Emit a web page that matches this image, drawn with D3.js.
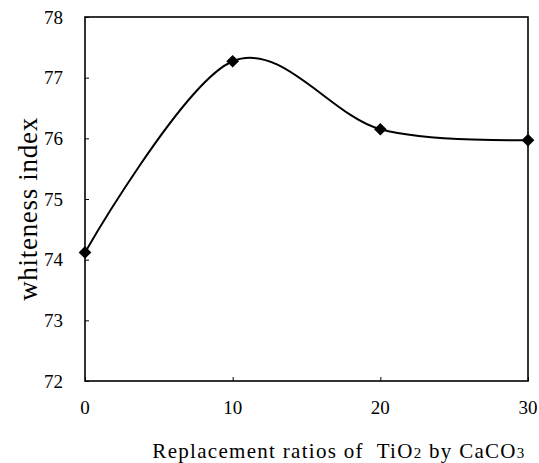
<!DOCTYPE html>
<html>
<head>
<meta charset="utf-8">
<script src="https://cdn.jsdelivr.net/npm/d3@7"></script>
<style>
  body { margin: 0; background: #fff; }
</style>
</head>
<body>
<div id="chart"></div>
<script>
const ratios = [0, 10, 20, 30];
const whiteness = [74.12, 77.27, 76.15, 75.97];
const xTicks = [0, 10, 20, 30];
const yTicks = [72, 73, 74, 75, 76, 77, 78];

const width = 539, height = 463;
const serif = "'Liberation Serif', 'Times New Roman', 'DejaVu Serif', serif";

const svg = d3.select("#chart").append("svg")
    .attr("width", width).attr("height", height)
    .attr("font-family", serif);

const x = d3.scaleLinear().domain([0, 30]).range([85, 528]);
const y = d3.scaleLinear().domain([72, 78]).range([381, 17]);

// plot box
svg.append("rect")
    .attr("x", x(0)).attr("y", y(78))
    .attr("width", x(30) - x(0)).attr("height", y(72) - y(78))
    .attr("fill", "none").attr("stroke", "#000").attr("stroke-width", 1.6);

// y axis, ticks point inward
const yAxis = svg.append("g")
    .attr("transform", `translate(${x(0)},0)`)
    .call(d3.axisRight(y).tickValues(yTicks).tickSize(4).tickFormat(""));
yAxis.select(".domain").remove();
yAxis.selectAll(".tick line").attr("stroke", "#000");

svg.append("g").selectAll("text")
    .data(yTicks).enter().append("text")
    .attr("x", 63).attr("y", d => y(d))
    .attr("dy", "0.35em")
    .attr("text-anchor", "end")
    .style("font-family", serif)
    .style("font-size", "19px")
    .text(d => d);

// x axis, ticks point inward
const xAxis = svg.append("g")
    .attr("transform", `translate(0,${y(72)})`)
    .call(d3.axisTop(x).tickValues(xTicks).tickSize(4).tickFormat(""));
xAxis.select(".domain").remove();
xAxis.selectAll(".tick line").attr("stroke", "#000");

svg.append("g").selectAll("text")
    .data(xTicks).enter().append("text")
    .attr("x", d => x(d)).attr("y", 414)
    .attr("text-anchor", "middle")
    .style("font-family", serif)
    .style("font-size", "19px")
    .text(d => d);

// axis titles
svg.append("text")
    .attr("transform", "translate(37,209) rotate(-90)")
    .attr("text-anchor", "middle")
    .style("font-family", serif)
    .style("font-size", "27px")
    .style("letter-spacing", "0.7px")
    .text("whiteness index");

const xt = svg.append("text")
    .attr("x", 339).attr("y", 458)
    .attr("text-anchor", "middle")
    .style("font-family", serif)
    .style("font-size", "21px")
    .style("letter-spacing", "1.3px");
xt.append("tspan").text("Replacement ratios of\u00a0 TiO");
xt.append("tspan").style("font-size", "15px").text("2");
xt.append("tspan").text(" by CaCO");
xt.append("tspan").style("font-size", "15px").text("3");

// smoothed line
const pts = ratios.map((r, i) => [r, whiteness[i]]);
const line = d3.line()
    .x(d => x(d[0])).y(d => y(d[1]))
    .curve(d3.curveCardinal.tension(0));

svg.append("path")
    .datum(pts)
    .attr("d", line)
    .attr("fill", "none")
    .attr("stroke", "#000")
    .attr("stroke-width", 2);

// diamond markers
svg.append("g").selectAll("path")
    .data(pts).enter().append("path")
    .attr("transform", d => `translate(${x(d[0])},${y(d[1])}) rotate(45)`)
    .attr("d", d3.symbol().type(d3.symbolSquare).size(80))
    .attr("fill", "#000");
</script>
</body>
</html>
